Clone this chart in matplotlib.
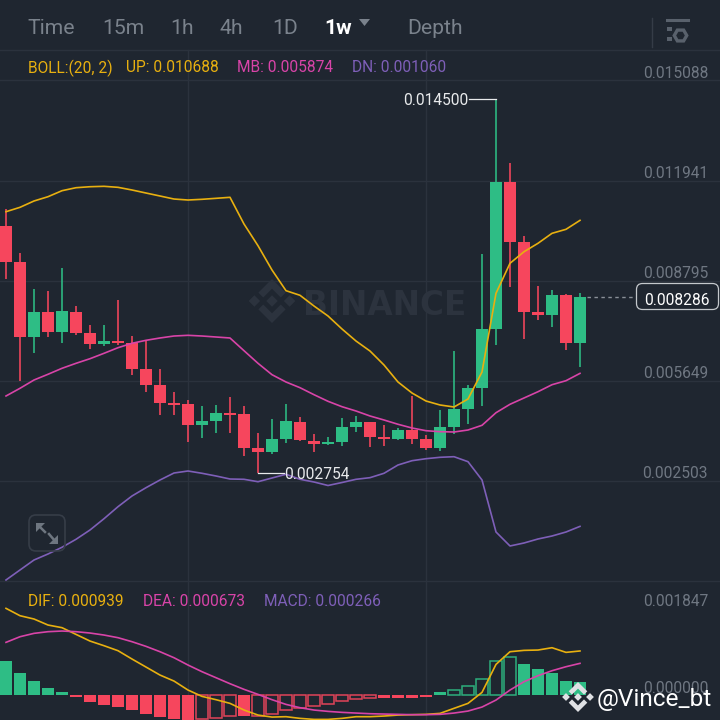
import matplotlib
matplotlib.use("Agg")
import matplotlib.pyplot as plt
from matplotlib.patches import Polygon, FancyBboxPatch, Rectangle

# ---------- data (all in millionths of a unit) ----------
SCALE = 1e-6
opens = [10519, 9377, 7008, 7795, 7175, 7820, 7134, 6807, 6902, 6839, 6002, 5517, 4932, 4920, 4249, 4375, 4636,
         4596, 3517, 3391, 3800, 4353, 3756, 3642, 3705, 4177, 4334, 3862, 3818, 4092, 3800, 3535, 4177, 4743,
         5423, 7260, 11904, 10016, 7804, 7710, 8330, 6839]
closes = [9377, 7008, 7795, 7185, 7836, 7134, 6807, 6902, 6829, 6002, 5517, 4942, 4879, 4240, 4375, 4627, 4574,
          3517, 3391, 3809, 4366, 3778, 3652, 3705, 4177, 4334, 3872, 3818, 4092, 3800, 3535, 4177, 4743, 5414,
          7260, 11904, 10016, 7804, 7710, 8330, 6839, 8286]
highs = [11045, 9670, 8528, 8465, 9189, 7984, 7380, 7386, 8182, 7049, 6892, 6002, 5278, 5036, 4847, 4879, 5121,
         4838, 3988, 4438, 4910, 4492, 3957, 3881, 4460, 4533, 4345, 4240, 4165, 5162, 3925, 4721, 6568, 5508,
         9620, 14500, 12492, 10195, 8622, 8487, 8371, 8402]
lows = [8843, 5634, 6515, 7027, 6839, 7081, 6650, 6725, 6757, 5832, 5297, 4574, 4574, 3715, 3850, 4007, 4007,
        3274, 2754, 3347, 3674, 3746, 3409, 3620, 3589, 4039, 3557, 3589, 3778, 3652, 3472, 3422, 3976, 4281,
        4857, 6776, 8582, 6955, 7553, 7333, 6609, 6065]
boll_up = [10960, 11098, 11297, 11432, 11621, 11715, 11746, 11759, 11727, 11643, 11548, 11454, 11359, 11328, 11350,
           11381, 11413, 10573, 9890, 9126, 8475, 8330, 7993, 7679, 7270, 6892, 6577, 6137, 5602, 5256, 5004, 4879,
           4816, 5067, 5917, 8393, 9337, 9701, 9966, 10280, 10406, 10688]
boll_mb = [5162, 5404, 5665, 5845, 6033, 6190, 6335, 6505, 6681, 6820, 6914, 6987, 7049, 7071, 7049, 7018, 6987,
           6587, 6190, 5832, 5602, 5423, 5203, 4995, 4825, 4690, 4533, 4407, 4272, 4155, 4070, 4039, 4029, 4092,
           4240, 4636, 4901, 5099, 5297, 5517, 5643, 5874]
boll_dn = [-627, -312, 2, 191, 402, 653, 946, 1301, 1679, 2016, 2277, 2519, 2739, 2802, 2730, 2645, 2550, 2541,
           2465, 2582, 2699, 2541, 2456, 2346, 2440, 2541, 2592, 2730, 2991, 3126, 3189, 3233, 3252, 3095, 2519,
           883, 443, 537, 663, 757, 883, 1060]
dif = [1854, 1696, 1625, 1496, 1439, 1295, 1152, 1052, 945, 766, 594, 422, 293, 100, -36, -107, -186, -329, -437,
       -480, -472, -508, -530, -530, -508, -472, -472, -458, -437, -429, -422, -401, -293, -186, 50, 651, 923, 952,
       959, 1009, 909, 939]
dea = [1124, 1245, 1317, 1353, 1367, 1353, 1324, 1281, 1224, 1138, 1038, 923, 794, 637, 494, 365, 236, 115, 7,
       -107, -208, -279, -329, -358, -379, -394, -408, -415, -422, -429, -429, -422, -394, -351, -265, -115, 100,
       279, 408, 515, 601, 673]
macd = [730, 458, 301, 143, 57, -50, -157, -215, -258, -337, -408, -479, -515, -580, -526, -494, -451, -458, -458,
        -415, -329, -279, -236, -208, -136, -86, -72, -64, -64, -64, -40, 50, 100, 179, 343, 730, 816, 666, 544,
        472, 294, 266]
hollow_bars = [14, 15, 16, 18, 19, 20, 21, 22, 23, 24, 25, 26, 32, 33, 34, 35, 36]

price_ticks = [0.015088, 0.011941, 0.008795, 0.005649, 0.002503]
macd_ticks = [0.001847, 0.000000]
tabs = ["Time", "15m", "1h", "4h", "1D", "1w", "Depth"]
last_price = 0.008286
high_label = 0.014500
low_label = 0.002754
low_index = 18
high_index = 35

# ---------- style ----------
BG = "#1f2630"
GRID = "#2b323d"
GREEN = "#2ebd85"
RED = "#f6465d"
YEL = "#e8b010"
PINK = "#d844a8"
PUR = "#7e5fb8"
GRAY = "#6f7782"
FONT = "Roboto"
TXT = 11.2
LW = 1.2
VA = "center_baseline"
plt.rcParams["font.family"] = [FONT, "DejaVu Sans"]

fig = plt.figure(figsize=(7.2, 7.2), dpi=100, facecolor=BG)


def area(top, bottom, z):
    a = fig.add_axes([0, 1 - bottom / 720, 1, (bottom - top) / 720], zorder=z)
    a.patch.set_alpha(0)
    return a


# pixel layers for chart furniture
bg = fig.add_axes([0, 0, 1, 1], zorder=0)
bg.set_xlim(0, 720); bg.set_ylim(720, 0); bg.axis("off")
over = fig.add_axes([0, 0, 1, 1], zorder=5)
over.set_xlim(0, 720); over.set_ylim(720, 0); over.axis("off"); over.patch.set_alpha(0)

X0, STEP = 6, 14
xs = list(range(len(opens)))
xlim = ((0 - X0) / STEP, (720 - X0) / STEP)

# ---------- price panel ----------
ax = area(80.5, 580.5, 2)
ax.set_xlim(*xlim)
ax.set_ylim(-0.000643, 0.015088)
ax.axis("off")
for o, c, h, l, x in zip(opens, closes, highs, lows, xs):
    col = GREEN if c >= o else RED
    ax.vlines(x, l * SCALE, h * SCALE, color=col, lw=1.15, zorder=2)
    ax.bar(x, abs(c - o) * SCALE, bottom=min(o, c) * SCALE, width=0.89, color=col, lw=0, zorder=3)
ax.plot(xs, [v * SCALE for v in boll_up], color=YEL, lw=LW, zorder=4, solid_joinstyle="round")
ax.plot(xs, [v * SCALE for v in boll_mb], color=PINK, lw=LW, zorder=4, solid_joinstyle="round")
ax.plot(xs, [v * SCALE for v in boll_dn], color=PUR, lw=LW, zorder=4, solid_joinstyle="round")
ax.plot([low_index, low_index + 1.85], [low_label, low_label], color="#e8eaec", lw=0.9, zorder=4)
ax.plot([high_index - 1.9, high_index], [high_label, high_label], color="#e8eaec", lw=0.9, zorder=4)
ax.plot([41.5, 45], [last_price, last_price], color="#8a9098", lw=1, ls=(0, (2.5, 2.5)), zorder=4)
ax.text(low_index + 1.9, low_label, f"{low_label:.6f}", color="#e8eaec", fontsize=TXT, va=VA, ha="left", zorder=6)
ax.text(high_index - 2.0, high_label, f"{high_label:.6f}", color="#e8eaec", fontsize=TXT, va=VA, ha="right", zorder=6)

# ---------- MACD panel ----------
am = area(580.5, 720, 2)
am.set_xlim(*xlim)
am.set_ylim(-0.000543, 0.002452)
am.axis("off")
for i, v in enumerate(macd):
    col = GREEN if v >= 0 else RED
    if i in hollow_bars:
        am.bar(i, v * SCALE, width=0.8, facecolor="none", edgecolor=col, lw=1.1, alpha=0.9, zorder=2)
    else:
        am.bar(i, v * SCALE, width=0.88, color=col, lw=0, zorder=2)
am.plot(xs, [v * SCALE for v in dif], color=YEL, lw=LW, zorder=4)
am.plot(xs, [v * SCALE for v in dea], color=PINK, lw=LW, zorder=4)

# ---------- grid ----------
for y in [50, 80, 180.5, 280.5, 380.5, 480.5, 580.5]:
    bg.plot([0, 720], [y, y], color=GRID, lw=1, zorder=1)
for x in [188, 426]:
    bg.plot([x, x], [50, 720], color=GRID, lw=1, zorder=1)


def logo(a, cx, cy, r, color, z=2):
    """Diamond emblem: centre, left/right diamonds, top/bottom chevrons."""
    d = 0.26 * r
    for dx, dy in [(0, 0), (-0.8 * r, 0), (0.8 * r, 0)]:
        a.add_patch(Polygon([(cx + dx - d, cy + dy), (cx + dx, cy + dy - d), (cx + dx + d, cy + dy), (cx + dx, cy + dy + d)],
                            fc=color, ec="none", zorder=z))
    for s in (-1, 1):
        a.add_patch(Polygon([(cx, cy + s * r), (cx + 0.62 * r, cy + s * 0.38 * r), (cx + 0.4 * r, cy + s * 0.16 * r),
                             (cx, cy + s * 0.56 * r), (cx - 0.4 * r, cy + s * 0.16 * r), (cx - 0.62 * r, cy + s * 0.38 * r)],
                            fc=color, ec="none", zorder=z))


# watermark
logo(bg, 272, 301, 22, "#2c333e")
bg.text(303, 302, "BINANCE", color="#2c333e", fontsize=23.5, fontweight="bold", family="DejaVu Sans",
        va=VA, ha="left", zorder=2)

# ---------- header ----------
tab_x = [27, 102, 170, 220, 272, 324, 407]
for t, x in zip(tabs, tab_x):
    sel = t == "1w"
    over.text(x, 26, t, color="white" if sel else "#7a828c", fontsize=15.2,
              fontweight="bold" if sel else "normal", va=VA, ha="left")
over.add_patch(Polygon([(359, 19), (370, 19), (364.5, 26)], fc="#7a828c", ec="none"))
over.plot([652, 652], [18, 47], color="#353c47", lw=1)
over.plot([667, 688], [20, 20], color="#59616c", lw=2.2)
over.add_patch(Rectangle((667, 27), 5, 4, fc="#59616c", ec="none"))
over.add_patch(Rectangle((667, 37), 5, 4, fc="#59616c", ec="none"))
over.plot([680], [35], marker="H", ms=9, mfc="#1f2630", mec="#59616c", mew=2.4)

# legends
for txt, x, col in [("BOLL:(20, 2)", 28, YEL), ("UP: 0.010688", 126, YEL), ("MB: 0.005874", 237, PINK), ("DN: 0.001060", 352, PUR)]:
    over.text(x, 66, txt, color=col, fontsize=TXT, va=VA, ha="left")
for txt, x, col in [("DIF: 0.000939", 28, YEL), ("DEA: 0.000673", 143, PINK), ("MACD: 0.000266", 264, PUR)]:
    over.text(x, 600, txt, color=col, fontsize=TXT, va=VA, ha="left")

# axis value labels
for v, y in zip(price_ticks, [72, 172, 272, 372, 472]):
    over.text(708, y, f"{v:.6f}", color=GRAY, fontsize=TXT, va=VA, ha="right")
for v, y in zip(macd_ticks, [600, 687]):
    over.text(708, y, f"{v:.6f}", color=GRAY, fontsize=TXT, va=VA, ha="right")

# last price box
over.add_patch(FancyBboxPatch((636.5, 283.5), 82, 26, boxstyle="round,pad=0,rounding_size=6", fc=BG, ec="#c4c8cc", lw=0.9))
over.text(677, 299, f"{last_price:.6f}", color="white", fontsize=TXT, va=VA, ha="center")

# expand button
over.add_patch(FancyBboxPatch((29, 515), 36, 36, boxstyle="round,pad=0,rounding_size=7", fc="none", ec="#363d48", lw=1.2))
over.add_patch(Polygon([(36, 523), (45, 523), (36, 532)], fc="#6e7680", ec="none"))
over.add_patch(Polygon([(58, 544), (49, 544), (58, 535)], fc="#6e7680", ec="none"))
over.plot([39, 45], [526, 532], color="#6e7680", lw=1.8)
over.plot([49, 55], [534, 541], color="#6e7680", lw=1.8)

# attribution
logo(over, 578, 697, 15, "#dfe1e4", z=6)
over.text(597, 697, "@Vince_bt", color="white", fontsize=17.6, va=VA, ha="left", zorder=6)

fig.savefig("out.png", dpi=100, facecolor=BG)
